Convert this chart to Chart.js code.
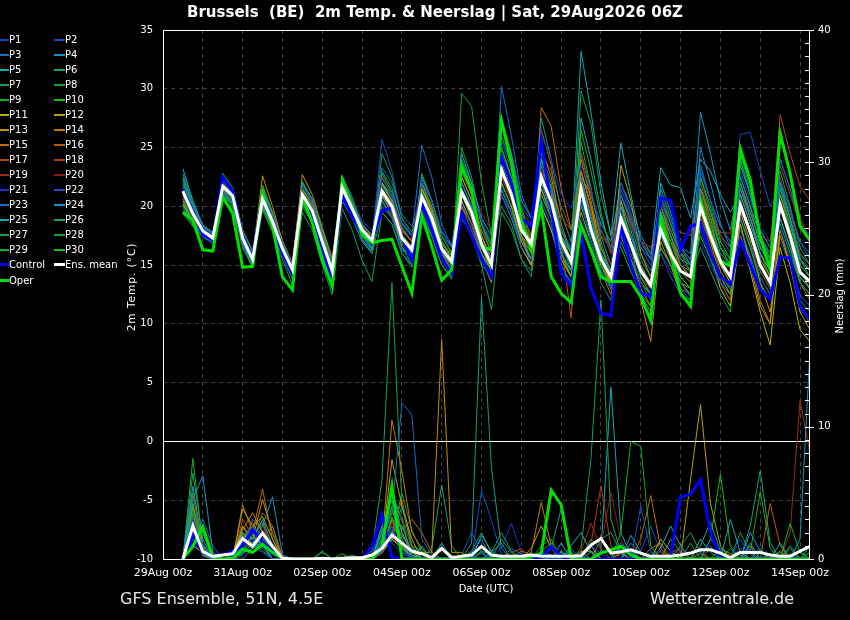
<!DOCTYPE html>
<html><head><meta charset="utf-8">
<script src="https://cdn.jsdelivr.net/npm/chart.js@4.4.1/dist/chart.umd.min.js"></script>
<style>
html,body{margin:0;padding:0;background:#000;}
#wrap{position:relative;width:850px;height:620px;background:#000;overflow:hidden;font-family:'DejaVu Sans',sans-serif;}
#c{position:absolute;left:0;top:0;}
.title{position:absolute;left:10px;width:850px;top:3px;text-align:center;color:#fff;font-weight:bold;font-size:15px;white-space:pre;}
.foot{position:absolute;top:589px;color:#e6e6e6;font-size:16px;white-space:pre;}
.axt{position:absolute;color:#fff;font-size:10px;white-space:pre;width:110px;height:12px;line-height:12px;text-align:center;transform:rotate(-90deg);transform-origin:50% 50%;}
.xt{position:absolute;color:#fff;font-size:10px;white-space:pre;width:100px;height:12px;line-height:12px;text-align:center;}
.leg{position:absolute;font-size:10px;color:#fff;white-space:pre;height:12px;line-height:12px;}
.leg i{display:inline-block;vertical-align:middle;width:11px;margin-top:-1px;}
</style></head>
<body><div id="wrap"><canvas id="c" width="850" height="620"></canvas>
<div class="title">Brussels  (BE)  2m Temp. &amp; Neerslag | Sat, 29Aug2026 06Z</div>
<div class="axt" style="left:76px;top:281px;font-size:10.5px;letter-spacing:1px">2m Temp. (°C)</div>
<div class="axt" style="left:785px;top:290px">Neerslag (mm)</div>
<div class="xt" style="left:436px;top:583px">Date (UTC)</div>
<div class="foot" style="left:120px">GFS Ensemble, 51N, 4.5E</div>
<div class="foot" style="left:650px">Wetterzentrale.de</div>
<div id="legend"></div>
</div>
<script>
// ---- time axis (hours after 29Aug 00z) ----
const HOURS = [12,18,24,30,36,42,48,54,60,66,72,78,84,90,96,102,108,114,120,126,132,138,144,150,156,162,168,174,180,186,192,198,204,210,216,222,228,234,240,246,252,258,264,270,276,282,288,294,300,306,312,318,324,330,336,342,348,354,360,366,372,378,384,390];
const X_TICK_LABELS = ['29Aug 00z','31Aug 00z','02Sep 00z','04Sep 00z','06Sep 00z','08Sep 00z','10Sep 00z','12Sep 00z','14Sep 00z'];

// ---- 2m temperature (°C) ----
const MEAN_T = [21.3,19.4,17.9,17.3, 21.7,20.9,17.3,15.5, 20.6,18.7,16.4,14.6, 21.0,19.6,17.0,14.5, 21.6,19.8,18.0,17.1, 21.3,20.0,17.3,16.3, 20.8,19.0,16.4,15.3, 21.2,19.5,16.8,15.0, 23.1,21.0,18.0,16.8, 22.5,20.4,17.0,15.3, 21.5,18.0,15.5,14.0, 19.0,16.8,14.5,13.3, 18.0,16.0,14.5,14.0, 20.0,17.5,15.3,14.0, 20.1,17.8,15.0,13.5, 20.1,17.5,14.4,13.6];
const OPER_T = [19.5,18.8,16.3,16.2, 20.8,19.4,14.8,14.9, 21.1,18.3,14.0,12.9, 20.8,18.6,15.4,13.2, 22.2,20.0,17.6,16.9, 17.1,17.2,14.9,12.6, 19.2,16.6,13.7,14.6, 23.4,21.4,16.6,16.3, 27.3,23.7,18.8,16.3, 19.9,14.0,12.6,11.8, 18.4,16.3,14.0,13.6, 13.6,13.6,12.3,10.3, 19.1,16.0,12.6,11.5, 20.5,17.7,15.4,14.9, 24.9,22.2,17.4,14.6, 26.2,22.8,18.3,17.1];
const CTRL_T = [21.4,19.6,17.6,17.1, 22.5,21.3,17.4,15.7, 20.8,18.5,16.0,14.3, 21.0,19.0,16.5,13.7, 20.9,19.2,17.6,17.2, 19.6,19.9,17.4,15.4, 20.3,18.0,15.5,14.3, 19.4,17.5,15.5,14.0, 24.2,22.0,19.0,18.3, 25.6,20.0,14.3,13.2, 17.7,13.0,10.9,10.7, 18.3,15.0,12.6,12.3, 20.7,20.5,16.3,18.3, 18.6,16.0,14.0,13.4, 17.1,15.0,12.9,12.1, 15.7,15.6,11.5,10.3];
const P1_T = [21.6,19.7,18.2,17.6, 22.2,21.4,17.8,16.0, 20.3,18.4,16.1,14.3, 21.2,19.8,17.2,14.7, 21.1,19.3,17.5,16.6, 22.3,21.0,18.3,17.3, 19.8,18.0,15.4,14.3, 23.2,21.5,18.8,17.0, 21.6,19.5,16.5,15.3, 26.1,24.0,21.0,19.8, 23.5,21.4,18.0,16.3, 19.5,16.0,13.5,12.0, 21.0,18.8,16.5,15.3, 17.0,15.0,13.5,13.0, 23.0,20.5,18.3,17.0, 18.1,15.5,12.4,11.6];
const P2_T = [20.8,18.9,17.4,16.8, 22.0,21.2,17.6,15.8, 21.1,19.2,16.9,15.1, 20.5,19.1,16.5,14.0, 22.4,20.6,18.8,17.9, 20.3,19.0,16.3,15.3, 22.3,20.5,17.9,16.8, 20.2,18.5,15.8,14.0, 25.6,23.0,20.0,18.8, 20.5,18.4,15.0,13.3, 20.5,17.0,14.5,13.0, 21.5,19.3,17.0,15.8, 16.0,14.0,12.5,12.0, 23.0,20.5,18.3,17.0, 19.1,16.8,14.0,12.5, 24.1,21.5,18.4,17.6];
const P3_T = [21.5,19.6,18.1,17.5, 21.4,20.6,17.0,15.2, 20.6,18.7,16.4,14.6, 21.8,20.4,17.8,15.3, 22.1,20.3,18.5,17.6, 23.3,22.0,19.3,18.3, 20.3,18.5,15.9,14.8, 22.0,20.0,17.0,15.5, 30.2,26.0,21.0,19.0, 23.5,21.4,18.0,16.3, 20.5,17.0,14.5,13.0, 21.0,18.8,16.5,15.5, 17.5,15.8,13.5,12.3, 23.0,20.5,18.3,17.0, 18.0,15.8,13.0,12.0, 22.1,19.8,17.0,15.5];
const P4_T = [22.8,20.3,18.3,17.6, 21.2,20.4,17.0,15.2, 21.5,19.2,16.8,14.8, 20.4,19.0,16.5,14.0, 20.8,19.2,17.5,16.3, 20.8,19.5,17.0,16.0, 22.5,20.5,17.8,16.6, 22.0,20.0,17.0,15.5, 27.0,24.5,20.5,19.0, 22.0,19.5,16.0,14.5, 22.5,19.0,16.0,14.5, 20.0,17.5,14.8,13.5, 19.5,17.5,15.5,15.0, 25.0,22.0,18.5,16.5, 21.5,19.0,16.5,15.0, 22.0,19.0,15.5,14.5];
const P5_T = [23.2,20.5,18.4,17.8, 21.5,20.8,17.2,15.3, 20.2,18.5,16.0,14.2, 20.8,19.2,16.8,14.2, 21.4,19.6,17.6,16.8, 20.5,19.0,16.5,15.8, 20.0,18.3,16.0,15.0, 24.5,22.0,19.0,17.5, 21.5,19.5,17.0,15.5, 24.0,21.5,18.0,16.0, 33.2,28.0,22.0,17.5, 25.4,21.0,17.0,15.5, 23.3,21.8,21.6,19.0, 24.0,23.0,21.0,19.5, 21.0,18.5,16.0,14.5, 19.0,16.5,14.0,13.0];
const P6_T = [19.8,18.6,17.5,17.0, 21.0,20.3,16.9,15.0, 21.2,19.0,16.6,14.9, 20.8,19.4,16.8,14.3, 22.6,20.8,18.4,17.3, 21.8,20.5,17.6,16.5, 21.2,19.3,16.5,15.3, 21.5,19.8,16.8,15.0, 23.8,21.5,18.5,16.8, 27.5,24.0,19.5,17.0, 21.0,18.5,16.0,14.0, 19.0,17.0,14.8,13.5, 16.5,15.0,13.5,12.5, 21.5,19.0,16.5,15.5, 22.0,19.5,17.0,15.5, 18.5,16.0,13.5,12.5];
const P7_T = [22.5,20.0,18.0,17.4, 21.6,20.6,17.3,15.4, 19.8,18.0,15.8,13.8, 20.5,19.0,16.0,13.0, 21.8,19.8,17.2,16.0, 19.5,18.5,16.0,14.8, 22.0,20.0,17.0,15.5, 23.8,21.5,18.5,16.8, 20.0,18.5,15.5,14.0, 21.0,19.0,16.0,14.5, 25.5,21.5,17.0,14.0, 17.5,15.5,13.5,12.0, 20.0,18.0,16.0,15.0, 20.5,18.0,15.5,14.0, 24.0,21.0,17.5,15.5, 20.5,18.0,15.0,14.0];
const P8_T = [19.6,18.4,17.6,17.2, 21.0,20.0,16.5,14.8, 21.8,19.5,16.8,14.9, 20.0,18.6,16.0,13.4, 22.2,20.0,17.6,16.4, 24.5,22.5,19.0,17.8, 19.5,17.5,15.0,13.8, 29.6,28.5,22.0,17.5, 24.0,22.0,18.5,16.5, 21.0,19.0,16.0,14.5, 22.0,19.0,16.0,14.5, 18.5,16.5,14.0,12.5, 19.0,17.0,15.0,14.5, 18.5,16.0,14.0,13.0, 21.0,18.5,16.0,14.5, 23.0,20.0,16.5,15.0];
const P9_T = [22.0,19.8,18.0,17.2, 21.2,20.2,17.5,15.6, 20.0,18.3,16.2,14.4, 21.5,20.0,17.5,15.0, 20.5,19.0,17.5,16.5, 20.0,19.0,16.5,15.5, 22.8,20.5,17.5,16.0, 19.0,17.5,15.0,14.0, 25.0,22.5,18.5,16.0, 24.5,22.0,17.5,15.5, 26.5,23.0,19.0,16.5, 16.5,14.5,12.5,11.5, 21.0,18.5,16.0,14.5, 17.5,15.5,13.5,12.5, 20.0,18.0,15.5,14.0, 21.5,18.5,15.0,14.0];
const P10_T = [20.5,18.8,17.5,16.9, 22.8,21.6,18.0,16.2, 20.9,18.9,16.6,14.8, 20.6,19.2,16.6,13.8, 21.0,19.5,17.5,16.8, 21.5,20.2,17.5,16.5, 20.5,19.0,16.8,15.8, 21.5,19.5,16.5,14.5, 22.0,20.0,17.5,16.5, 22.0,20.5,17.5,16.0, 20.0,17.5,15.0,13.0, 19.5,17.0,14.0,12.5, 18.0,16.0,14.0,13.0, 22.5,19.5,16.5,15.0, 19.0,16.5,14.0,12.5, 20.5,17.5,14.0,13.0];
const P11_T = [20.2,18.8,17.6,17.0, 22.0,21.0,17.6,15.8, 21.0,19.0,16.7,14.9, 21.2,19.8,17.3,14.8, 21.0,19.5,17.5,16.5, 22.0,20.5,17.5,16.5, 21.5,19.5,16.5,15.0, 20.5,18.5,16.0,14.5, 21.5,19.5,16.5,15.0, 20.0,18.0,15.5,14.0, 21.0,18.0,15.0,13.5, 17.5,15.5,13.5,12.5, 16.5,15.0,13.5,12.5, 18.5,16.0,13.0,11.5, 17.5,14.5,11.0,8.2, 16.5,13.5,9.5,8.5];
const P12_T = [21.0,19.2,17.8,17.1, 21.5,20.7,17.1,15.3, 20.4,18.5,16.2,14.4, 20.8,19.3,16.7,14.2, 21.3,19.6,17.8,16.8, 20.8,19.5,17.0,16.0, 21.0,19.0,16.2,15.0, 22.5,20.5,17.5,15.5, 22.0,20.0,17.0,15.5, 23.5,21.0,17.5,15.0, 19.5,17.0,14.5,13.0, 23.5,20.5,16.0,14.0, 18.5,16.0,13.5,13.0, 19.5,17.0,14.0,12.5, 18.5,15.0,11.5,10.0, 18.0,15.0,11.0,9.5];
const P13_T = [20.8,19.0,17.8,17.2, 21.9,21.1,17.5,15.7, 22.6,20.0,17.0,15.0, 22.7,21.0,18.2,15.6, 21.8,20.2,18.4,17.5, 21.0,19.8,17.5,16.5, 21.5,19.8,17.0,15.8, 20.0,18.5,15.5,13.5, 23.5,21.0,17.5,15.0, 21.5,19.0,16.0,14.0, 23.0,20.0,16.0,13.5, 20.5,17.0,12.0,8.5, 17.0,15.0,12.5,12.0, 20.5,18.0,15.0,13.5, 19.5,17.0,13.5,11.0, 17.5,15.0,11.5,10.0];
const P14_T = [21.2,19.4,18.0,17.4, 21.6,20.8,17.4,15.6, 21.0,19.0,16.8,15.0, 21.5,20.2,17.8,15.2, 21.5,20.0,18.2,17.2, 21.8,20.5,18.0,17.0, 20.0,18.5,16.0,14.5, 21.0,19.0,16.5,14.5, 24.5,22.5,19.0,17.0, 25.0,22.5,18.5,16.0, 24.0,20.5,16.5,14.5, 19.5,17.0,14.5,13.0, 20.0,17.5,15.0,14.0, 20.5,17.5,14.5,13.0, 22.0,19.0,16.0,14.0, 21.0,18.0,14.5,13.0];
const P15_T = [21.0,19.5,18.2,17.6, 22.4,21.3,17.9,16.1, 20.0,18.2,16.0,14.2, 21.0,19.7,17.4,15.0, 22.5,20.5,18.5,17.5, 21.3,20.0,17.5,16.3, 22.0,20.0,17.0,15.5, 23.0,21.0,18.0,16.0, 21.5,19.5,16.5,15.0, 28.4,26.8,21.5,18.0, 21.0,18.0,14.5,12.5, 18.0,15.5,13.0,11.5, 19.5,17.0,14.5,13.5, 21.5,18.5,15.5,14.0, 18.5,15.5,12.0,10.0, 20.0,17.0,13.5,12.0];
const P16_T = [20.6,19.0,17.7,17.2, 21.4,20.5,17.2,15.4, 21.5,19.5,17.0,15.2, 21.0,19.5,17.0,14.6, 21.2,19.8,18.0,17.0, 20.5,19.2,16.8,15.8, 20.5,18.8,16.2,15.0, 22.0,20.0,17.0,15.0, 23.0,21.0,17.5,16.0, 26.5,23.5,17.0,10.5, 22.0,19.5,15.5,13.5, 20.0,17.5,15.0,13.5, 18.0,15.5,13.0,12.5, 19.0,16.5,13.5,12.0, 20.5,18.0,15.5,14.0, 26.5,23.0,19.0,17.0];
const P17_T = [21.6,19.8,18.3,17.6, 21.3,20.6,17.2,15.3, 20.8,18.8,16.5,14.7, 20.5,19.0,16.4,14.0, 21.7,20.0,18.0,17.0, 21.8,20.4,17.6,16.6, 21.0,19.2,16.6,15.5, 21.5,19.8,17.0,15.3, 22.5,20.5,17.5,16.0, 24.5,23.0,20.0,18.0, 23.0,20.0,17.5,16.5, 20.0,18.5,17.0,16.0, 18.5,17.0,16.0,15.5, 21.5,19.5,17.5,16.5, 22.0,19.5,17.0,16.0, 27.8,24.5,21.7,20.5];
const P18_T = [20.4,19.0,17.8,17.2, 22.1,21.0,17.5,15.7, 20.5,18.7,16.3,14.5, 21.3,19.9,17.3,14.6, 22.4,20.4,18.2,17.0, 22.5,21.0,18.0,17.0, 20.8,19.0,16.5,15.2, 22.5,20.5,17.5,15.5, 24.0,22.5,19.5,18.5, 23.0,21.5,19.0,18.0, 24.5,21.0,18.0,16.5, 21.0,19.0,17.0,16.5, 18.5,18.0,17.8,17.5, 22.0,19.0,17.8,17.7, 21.5,19.0,17.5,17.0, 23.5,21.0,18.5,17.5];
const P19_T = [21.4,19.5,18.0,17.4, 21.8,20.9,17.4,15.6, 21.8,19.6,17.0,15.0, 20.9,19.4,16.9,14.4, 22.0,20.2,18.0,16.8, 21.5,20.3,17.8,17.2, 21.8,19.9,17.0,15.6, 20.0,18.0,15.5,14.0, 22.5,21.5,19.0,17.5, 22.0,20.0,17.0,15.5, 23.5,21.0,18.0,16.0, 18.5,16.5,14.0,13.0, 20.5,18.0,15.5,14.5, 21.0,18.5,15.5,14.0, 19.5,17.0,14.5,13.0, 22.5,19.5,16.0,14.5];
const P20_T = [21.2,19.3,17.9,17.3, 21.5,20.6,17.1,15.3, 20.6,18.7,16.4,14.6, 21.6,20.2,17.4,14.8, 21.2,19.7,17.8,17.0, 20.8,19.6,17.0,16.0, 21.0,19.5,17.0,15.8, 23.0,21.5,19.5,18.0, 22.0,20.0,17.0,15.5, 22.5,20.5,17.5,15.5, 22.5,19.5,16.5,15.0, 20.0,18.5,16.5,15.5, 17.5,16.0,15.0,14.5, 20.0,17.5,15.5,14.5, 21.0,18.5,16.0,15.0, 20.0,17.5,15.0,14.0];
const P21_T = [21.8,19.9,18.1,17.5, 22.3,21.2,17.6,15.8, 20.2,18.4,16.2,14.4, 20.7,19.3,16.8,14.3, 20.6,19.0,17.2,16.3, 21.0,19.8,17.2,16.0, 19.5,17.8,15.5,14.5, 20.5,18.5,16.0,14.5, 21.0,19.5,16.5,15.0, 20.5,18.5,15.5,14.0, 19.0,17.0,14.5,13.0, 18.0,16.0,13.5,12.0, 16.0,14.5,13.0,12.0, 18.0,15.5,13.0,12.0, 17.5,15.5,13.0,12.0, 17.0,15.0,12.5,11.5];
const P22_T = [21.5,19.8,18.2,17.5, 21.8,20.8,17.3,15.5, 20.7,18.9,16.5,14.6, 21.0,19.6,17.1,14.6, 21.9,20.1,18.0,17.1, 25.7,23.0,19.0,17.5, 22.0,20.5,17.5,16.5, 21.0,19.0,16.5,15.0, 24.5,22.0,18.5,17.0, 23.0,21.0,18.0,16.5, 21.5,19.0,16.5,15.0, 22.0,19.5,16.5,15.0, 21.0,18.5,16.0,15.0, 23.5,20.5,17.5,16.0, 26.1,26.3,23.0,20.0, 21.5,19.5,17.0,16.0];
const P23_T = [20.0,18.6,17.5,17.0, 21.2,20.4,17.0,15.2, 21.2,19.2,16.9,15.0, 20.3,18.9,16.3,13.8, 21.2,19.4,17.4,16.5, 22.5,21.0,18.5,17.5, 25.2,22.5,18.5,16.5, 21.0,19.0,16.0,14.0, 23.0,21.0,17.5,16.0, 21.5,19.5,16.5,15.0, 20.5,18.0,15.0,13.5, 21.0,19.0,16.0,14.5, 19.5,17.5,15.5,14.5, 19.0,17.0,15.0,14.0, 20.5,18.0,15.0,13.5, 20.0,17.0,14.0,13.0];
const P24_T = [22.2,20.0,18.3,17.7, 21.0,20.1,16.8,15.0, 21.0,19.0,16.7,14.9, 22.0,20.6,18.0,15.4, 20.8,19.2,17.2,16.2, 22.0,20.8,18.0,17.0, 21.5,19.8,17.0,15.8, 22.5,20.5,17.5,15.5, 21.0,19.0,16.5,15.0, 22.5,20.5,17.5,16.0, 22.5,21.0,18.5,17.0, 22.0,20.0,17.5,16.0, 20.5,18.5,16.5,16.0, 28.0,24.5,20.5,18.0, 22.5,20.0,17.5,16.0, 24.0,21.5,18.5,17.0];
const P25_T = [20.9,19.1,17.7,17.1, 22.0,21.0,17.4,15.6, 20.4,18.6,16.3,14.5, 21.4,20.0,17.5,15.0, 20.6,19.0,17.0,16.0, 21.2,20.0,17.0,15.8, 20.2,18.5,16.0,15.0, 24.0,22.0,18.5,16.5, 23.5,21.0,17.5,15.5, 20.0,18.0,15.0,13.5, 27.5,24.0,19.5,16.0, 20.5,18.0,15.0,13.5, 22.0,19.5,16.5,15.0, 21.0,18.5,16.0,15.0, 23.5,21.0,18.0,16.5, 21.0,18.5,15.5,14.5];
const P26_T = [21.7,19.7,18.0,17.3, 21.3,20.4,17.1,15.2, 20.1,18.3,16.0,14.2, 21.9,20.4,17.5,15.0, 21.6,19.9,18.0,17.0, 23.0,21.5,18.5,17.5, 20.5,18.5,15.5,14.0, 22.0,20.0,17.0,15.0, 26.0,23.5,19.5,17.5, 21.5,19.5,16.0,14.5, 24.5,21.5,17.5,15.0, 19.0,17.0,14.5,13.5, 21.5,19.0,16.5,15.5, 20.0,17.5,15.0,13.5, 24.5,21.5,17.5,15.5, 21.5,19.0,16.0,15.0];
const P27_T = [20.3,18.7,17.6,17.0, 20.6,19.9,16.6,14.8, 19.7,17.8,15.5,13.3, 19.5,18.0,15.0,12.5, 19.8,18.0,15.4,13.6, 19.5,18.5,16.0,15.0, 21.0,19.0,16.0,14.5, 20.0,18.0,15.0,11.2, 19.5,18.0,15.5,14.5, 22.5,20.0,16.0,14.0, 18.5,16.0,13.5,12.0, 17.0,15.0,12.5,11.0, 20.0,17.5,15.0,14.0, 16.5,14.5,12.5,11.0, 19.0,16.5,13.5,12.0, 18.0,15.5,12.0,11.0];
const P28_T = [22.4,20.1,18.2,17.5, 21.9,21.0,17.5,15.6, 21.3,19.3,16.9,15.0, 20.2,18.8,16.2,13.6, 21.3,19.6,17.8,17.0, 22.0,21.0,18.2,17.0, 21.8,20.0,17.0,15.5, 25.0,22.5,18.5,16.0, 22.0,20.0,17.0,15.5, 24.0,21.5,17.5,15.0, 29.8,27.0,21.0,17.5, 21.0,18.5,15.5,14.0, 19.0,17.0,15.0,14.0, 22.5,20.0,16.5,15.0, 24.0,21.0,17.5,15.5, 22.0,19.0,15.5,14.0];
const P29_T = [19.4,18.3,17.4,17.0, 21.4,20.7,17.0,15.2, 20.5,18.6,16.1,14.3, 20.2,18.8,16.0,13.2, 22.6,20.6,18.2,17.0, 21.0,19.5,16.5,15.0, 22.5,20.5,17.5,16.0, 23.5,21.0,17.5,15.0, 27.5,24.5,20.0,17.0, 23.0,21.0,17.0,14.5, 22.5,19.0,15.5,13.0, 20.0,17.0,14.0,12.5, 17.5,15.5,13.0,12.0, 21.5,19.0,15.5,14.0, 22.5,20.0,16.5,15.0, 19.0,16.5,13.5,12.5];
const P30_T = [20.1,18.6,17.5,17.0, 22.5,21.3,17.8,16.0, 21.6,19.5,17.1,15.2, 22.1,20.6,18.0,15.4, 21.0,19.5,17.7,16.9, 22.8,21.2,18.6,17.5, 19.0,17.5,15.0,14.0, 21.5,19.5,16.5,15.0, 25.0,22.5,18.5,16.5, 24.0,21.5,17.0,15.0, 23.0,20.0,16.5,14.5, 18.0,15.5,13.0,11.5, 19.0,16.5,14.0,13.0, 23.5,20.5,17.0,15.5, 20.0,17.5,14.5,13.0, 22.0,19.0,15.5,14.5];

// ---- precipitation (mm per 6 h) ----
const MEAN_R = [0,2.5,0.55,0.2,0.3,0.4,1.55,0.95, 1.95,0.95,0.05,0,0,0,0.05,0, 0.05,0.1,0.1,0.3,0.8,1.8,1.2,0.6, 0.4,0.1,0.8,0.1,0.2,0.3,0.95,0.3, 0.2,0.2,0.2,0.3,0.2,0.2,0.2,0.2, 0.25,1.05,1.55,0.45,0.55,0.7,0.45,0.2, 0.2,0.2,0.3,0.45,0.7,0.7,0.45,0.1, 0.5,0.5,0.5,0.3,0.2,0.2,0.6,0.95];
const OPER_R = [0,0.95,2.45,0.15,0,0.05,0.75,0.5, 1.1,0.5,0.05,0,0,0,0,0, 0,0,0,0,0.95,5.5,0,0, 0,0,0,0,0,0,0,0, 0,0,0,0.15,0.45,5.2,4.1,0, 0,0,0.45,0.7,0.95,0.3,0,0, 0,0,0,0,0,0,0,0, 0,0,0,0,0,0,0,0];
const CTRL_R = [0,1.7,0.5,0.3,0.3,0.6,1.0,2.2, 1.3,0.6,0,0,0,0,0,0, 0,0,0,0.95,3.4,0.1,0,0, 0,0,0,0,0,0,0,0, 0,0,0,0,0.1,0.95,0.2,0, 0,0,0,0,0,0,0,0, 0,0.2,4.7,4.9,6.0,2.0,0.2,0, 0,0,0,0,0,0,0,0];
const P1_R = [0,3.0,0.8,0,0,0.2,0.8,1.5, 1.0,0.3,0,0,0,0,0,0, 0,0,0,0,1.2,2.5,0.5,0.2, 0,0,0,0,0,0,0.4,0, 0,0,0,0,0.5,0,0,0, 0,1.0,0.4,0,0,0,0,0, 0,0,0.8,0,0,0,0,0, 1.5,0.3,0,0,0,0,0,0];
const P2_R = [0,2.0,1.2,0,0,0,0.3,1.0, 0.8,0,0,0,0,0,0,0, 0,0,0,0,0.5,1.8,0.8,0, 0,0,0,0,0,0,5.2,2.9, 0.3,0,0,0,0,0,0,0, 0.5,0,0,0,0,0,4.0,0.6, 0,0,0,0,0,0,0,0, 0,0.8,0.2,0,0,0,0,0];
const P3_R = [0,1.5,0.5,0,0,0.3,1.2,2.5, 1.8,0.6,0,0,0,0,0,0, 0,0,0,0,1.5,3.5,11.8,10.9, 1.5,0.3,0,0,0,0,0,0, 0,0.8,0.4,0,0,0,0,0, 0,0,0,0,1.2,0.5,0,0, 0,0,0,0,0,1.5,0.6,0, 0,0,0,0,0,0,0,0];
const P4_R = [0,4.5,6.3,0.5,0,0,1.5,1.2, 2.5,4.7,0.3,0,0,0,0,0, 0,0,0,0,0.8,2.0,1.2,0, 0,0,0,0,0,0.5,1.5,0, 0,0,0,0,0,0,0.6,0, 0,0,0,0,0,1.8,0.5,0, 0,0,0,0,0,0,0,0, 0,1.2,0,0,0,0,1.5,15.8];
const P5_R = [0,5.5,1.0,0,0,0,2.0,1.5, 3.0,1.0,0,0,0,0,0,0, 0,0,0,0,2.5,4.5,2.0,0.5, 0,0,1.2,0,0,0,1.8,0.6, 0,0,0,0,0,0,0,1.0, 2.0,0.5,0,0,0,0,0,0, 0.8,2.5,1.0,0,0,0,0,3.0, 0.5,0,0,0,1.2,0,0,0];
const P6_R = [0,2.5,0.4,0,0,0,0,0.8, 1.2,0,0,0,0,0,0,0, 0,0,0,0,0.6,1.5,4.0,1.0, 0,0,0,0,0,1.2,19.8,6.9, 0.8,0,0,0,0,0,0,0, 0,0,1.5,2.0,0.5,0,0,0, 0,0,0,0,1.0,2.8,0.6,0, 0,0,0,0,0,1.0,0,0];
const P7_R = [0,6.5,1.5,0,0,0,1.5,2.5, 0.8,0,0,0,0,0,0,0, 0,0,0,0,2.0,5.0,3.0,0, 1.0,0,0,0,0,0,0.5,0, 0,0,0,0,0,0,0,0, 0.8,7.6,19.6,3.0,0.5,0,0,0, 0,0,0,1.2,0,0,0,0, 0,0,0.8,0,0,0,0,0];
const P8_R = [0,3.5,0.3,0,0,0,1.0,0.5, 1.5,0.5,0,0,0,0,0.6,0, 0,0,0,0,1.0,2.5,1.5,0, 0,0,0.8,0.3,0,0,0,0, 1.5,0.5,0,0,0,0,0,0, 0,0,0,0,1.0,0.6,0,0, 0,0,0,0,0,0,0,0, 2.0,0.5,0,0,0,0,0,0];
const P9_R = [0,7.6,1.0,0,0,0,0.6,1.8, 1.0,0,0,0,0,0,0,0, 0,0,0,0,1.5,4.0,0.8,0, 0,0,0,0,0,0,0,0, 0,0,0,0,1.0,1.5,0,0, 0,0,0,0,2.0,8.9,8.5,1.0, 0,0,0,0,0,0,0,0.8, 0,0,0,0,0,2.7,0.5,0];
const P10_R = [0,4.0,0.6,0,0,0,0.4,1.2, 2.0,0.8,0,0,0,0,0,0, 0.4,0,0,0,0.8,3.0,2.5,0.5, 0,0,0,0,0,0,0,0, 0,0,0,0,0,0,0.5,0, 0,0,0,0,0,0,0,0, 0,0,0,0,0,1.5,6.4,1.0, 0,0,0,0,0,0,0,0.5];
const P11_R = [0,3.0,0.5,0,0,0.4,2.0,1.0, 1.5,0.5,0,0,0,0,0,0, 0,0,0,0,0.5,1.5,0.8,0.3, 0,0,0,0,0,0,0,0, 0,0,0,0,0,0,0,0, 0.5,1.0,0,0,0,0,0,0, 1.5,0.6,0,0,0,0,0,0, 0.6,0,0,0,0,0,0,0];
const P12_R = [0,1.0,0.5,0,0,0,3.8,2.5, 3.2,1.5,0,0,0,0,0,0, 0,0,0,0,1.0,7.5,4.0,1.5, 0,0,0,0,0,0,0,0, 0,0,0,0.8,2.5,0.8,0,0, 0,0,0,0,0,0,0,0, 0,0,0,6.0,11.7,4.2,1.0,0, 0,0,0,0,0,0,0,0];
const P13_R = [0,2.5,0.8,0,0,0,2.5,1.5, 4.5,2.0,0,0,0,0,0,0, 0,0,0,0,0.5,1.5,1.0,0, 0.5,0.5,16.6,0.5,0.5,0,0,0, 0,0,0,0,0,0,0,0, 0.5,0.6,0,0,0,0,0,0, 0,0,0,0,0,0,0,0, 0,1.0,0,0,0,0,0,0];
const P14_R = [0,1.8,0.3,0,0,0,2.2,3.5, 2.0,0.6,0,0,0,0,0,0, 0,0,0,0,1.0,10.5,6.7,2.0, 0.8,0,0,0,0,0,0,0, 0,0,0,0.5,4.3,1.0,0,0, 0,0,0,0,0,0,0,0.8, 1.2,0,0,0,0,0,0,0, 0,0,0,0.4,0,0,0,0];
const P15_R = [0,3.8,1.0,0,0,0,4.1,2.0, 5.3,1.5,0,0,0,0,0,0, 0,0,0,0,1.5,3.5,2.2,3.0, 2.0,0.5,0,0,0,0,0,0, 0,0,0,0,0,0,0,0, 0,0,0,0,0.4,0,1.5,4.8, 0.8,0,0,0,0,0,0,0, 0,0,0,0,0.6,0,0,0];
const P16_R = [0,2.2,0.5,0,0,0,1.8,1.2, 3.5,2.5,0.2,0,0,0,0,0, 0,0,0,0,0.5,2.0,4.5,1.0, 0,0,0,0,0,0,0,0, 0,0,0.6,0.3,0,0,0,0, 0.6,0,0,0,0,0,0,0, 0,0.5,0.8,0,0,0,0,0, 0,0,0,4.2,1.0,0,0,0];
const P17_R = [0,4.8,0.8,0,0,0,3.0,1.8, 2.6,0.8,0,0,0,0,0,0, 0,0,0,0,1.2,3.0,1.8,0.6, 0,0,0,0,0,0,0,0, 0,0,0,0,0,0,0.5,0.2, 0,0,0,0,0.5,0,0,0, 0,0,0,0,0,0,0,0.4, 0.3,0,0,0,0,0,0,0];
const P18_R = [0,3.2,1.5,0,0,0,1.5,2.8, 1.0,0,0,0,0,0,0,0, 0,0,0,0,0.8,2.0,3.2,0.8, 0,0,0,0,0,0,0,0, 0,0.5,0.8,0,0,0,0,0, 0,1.2,5.5,1.0,0,0,0,0, 0.6,0,0,0,0.4,0,0,0, 0,0,0,0,0,0,0,0];
const P19_R = [0,4.0,0.5,0,0,0,0.8,1.5, 1.8,0.4,0,0,0,0,0,0, 0,0,0,0,0.6,2.8,1.0,0, 0.4,0,0,0,0,0,0,0, 0,0,0,0,0,0,0,0, 0.6,2.7,0.8,0,0,0,0,0, 0,0,0.6,0,0,0,0,0, 0,0,0,0,0,2.0,12.0,8.0];
const P20_R = [0,2.8,0.6,0,0,0,1.2,0.8, 2.2,1.0,0,0,0,0,0,0, 0,0,0,0,0.4,1.5,2.5,0.5, 0,0,0,0,0,0,0,0, 0,0,0,0,0,0,0,0, 0,0,1.0,5.0,1.5,0,0,0, 0,0,0,0.5,0.8,0,0,0, 0,0,0,0,0,0,0,0];
const P21_R = [0,1.2,0.4,0,0,0,0.6,2.0, 1.5,0,0,0,0,0,0,0, 0,0,0,0,1.8,2.2,0.6,0, 0,0,0,0,0,0,1.0,0, 0.8,2.7,0.5,0,0,0,0,0, 0,0,0,0,0,0,0,0.5, 0,0,0,0,0,0,0,0, 0,0,1.0,0.3,0,0,0,0];
const P22_R = [0,2.0,0.2,0,0,0,1.8,1.0, 0.5,0,0,0,0,0,0,0, 0,0,0,0.4,2.5,1.2,0.5,0, 0,0,0,0,0.3,2.0,0.5,0, 0,0,0,0,0,0,0,0.8, 0,0,0,0,0,0,0.6,2.5, 0.5,0,0,0,0,0,0,0, 0.8,0.5,0,0,0,0,0,0];
const P23_R = [0,1.0,3.0,1.0,0,0,0.5,3.0, 2.2,1.2,0,0,0,0,0,0, 0,0,0,0,1.0,3.8,1.5,0, 0,0,0,0,0,0,0,0, 0,0,0,0.5,0,0,0,0, 0,0,0,0,1.0,0.5,0,0, 0,0,0,0,0.5,1.0,0,0, 0,0,0,0,0,0.4,0,0];
const P24_R = [0,2.8,0.5,0,0,0,1.0,2.2, 1.5,2.5,0,0,0,0,0,0, 0,0,0,0,1.2,5.5,2.0,0.6, 0,0,0,0,0,0,0,0.5, 1.2,0,0,0,0.5,0.3,0,0, 0,0,0,0,0,0,0,0, 0,1.5,0.5,0,0,0,0,0, 0,2.0,0.6,0,0,0,0,0];
const P25_R = [0,4.2,0.8,0,0,0,1.5,2.0, 1.8,0.8,0,0,0,0,0,0, 0,0,0,0,2.2,3.0,1.2,0.4, 0.8,0,0,0,0,0,0,0, 0,0,0,0,0.4,0,1.2,0, 0,0,0.6,13.0,2.0,0.3,0,0, 0,0,0,0,1.5,0.5,0,0, 0,0,0,0,0,0,0,1.0];
const P26_R = [0,3.3,0.6,0,0,0,2.5,1.0, 1.2,0,0,0,0,0,0,0, 0,0,0,0,1.0,2.2,1.0,0, 0,0.8,5.6,1.0,0,0,0,0, 0,0,0,0,0,0.8,3.8,0.5, 0,0,0,0,0,1.2,0.4,0, 0,0,0,0,0,0,0,0, 0,2.5,6.7,1.2,0,0,0,0];
const P27_R = [0,5.0,0.8,0,0,0,1.2,1.5, 2.8,0.5,0,0,0,0,0.5,0, 0,0.3,0,0.6,6.0,20.9,4.0,1.0, 0.6,0,0,0,0,0,0,0.5, 2.0,0.6,0,0,0,0,0,0, 0,1.5,0.8,0,0,0,0,0, 0,0,0,0,0,0.8,0.3,0, 0,0,0,0,0.5,0,0,0];
const P28_R = [0,2.2,1.0,0,0,0,0.7,1.2, 0.6,0,0,0,0,0,0,0, 0,0,0,0,0.8,1.8,5.0,2.2, 0.5,0,0,0,0,0.6,2.0,0.4, 0,0,0,0,0,0,0,0, 0,0,0,0,0,0.8,0,0, 0,0,1.0,2.0,0.5,0,0,0, 0,0,0,0,0,0,0.6,0];
const P29_R = [0,3.0,2.0,0,0,0,0.5,0.8, 1.5,0.8,0,0,0,0,0,0, 0,0,0,0,1.5,2.5,1.8,0.5, 0,0,0,0,0,0,0,0, 0,0,0,0,0.6,1.2,0,0, 0,0.5,0,0,0,0,0,0, 0,0.5,0,0,0,0,0,0, 0,0.5,5.1,0.8,0,0,0,0];
const P30_R = [0,1.5,0.5,0,0,0,0.9,1.6, 1.2,0,0,0,0,0,0,0, 0,0,0,0,0.5,3.2,0.8,0, 0,0,0,0,0,0,0.6,0.3, 0,0,0,0,0,0,0,0, 0,0,0,0,0.5,0,0,0, 0,0,0,0,0,0,0.8,0.4, 0,0,0,0,0,0.8,0,0];

const MEMBER_NAMES = ['P1','P2','P3','P4','P5','P6','P7','P8','P9','P10','P11','P12','P13','P14','P15','P16','P17','P18','P19','P20','P21','P22','P23','P24','P25','P26','P27','P28','P29','P30'];
const MEMBER_T = [P1_T,P2_T,P3_T,P4_T,P5_T,P6_T,P7_T,P8_T,P9_T,P10_T,P11_T,P12_T,P13_T,P14_T,P15_T,P16_T,P17_T,P18_T,P19_T,P20_T,P21_T,P22_T,P23_T,P24_T,P25_T,P26_T,P27_T,P28_T,P29_T,P30_T];
const MEMBER_R = [P1_R,P2_R,P3_R,P4_R,P5_R,P6_R,P7_R,P8_R,P9_R,P10_R,P11_R,P12_R,P13_R,P14_R,P15_R,P16_R,P17_R,P18_R,P19_R,P20_R,P21_R,P22_R,P23_R,P24_R,P25_R,P26_R,P27_R,P28_R,P29_R,P30_R];

// ---- styles ----
const PALETTE = ['#1438c4','#1450c4','#1470c4','#1494c8','#14a8b4','#14a080','#14a058','#14a040','#14b020','#14c014',
                 '#b8b400','#b8a000','#c09000','#c07c00','#c06a00','#b85a04','#b04a10','#b03c10','#a02c12','#901818'];
const memberColor = i => PALETTE[i % 20];
const COL_MEAN = '#ffffff', COL_CTRL = '#0000ff', COL_OPER = '#00e000';

const base = {pointRadius:0, pointHoverRadius:0, tension:0, fill:false};
const datasets = [
  Object.assign({label:'Ens. mean', data:MEAN_T, yAxisID:'y', borderColor:COL_MEAN, borderWidth:3, order:0}, base),
  Object.assign({label:'Oper', data:OPER_T, yAxisID:'y', borderColor:COL_OPER, borderWidth:3, order:1}, base),
  Object.assign({label:'Control', data:CTRL_T, yAxisID:'y', borderColor:COL_CTRL, borderWidth:3, order:2}, base),
  Object.assign({label:'Ens. mean RR', data:MEAN_R, yAxisID:'y1', borderColor:COL_MEAN, borderWidth:3, order:3}, base),
  Object.assign({label:'Oper RR', data:OPER_R, yAxisID:'y1', borderColor:COL_OPER, borderWidth:3, order:4}, base),
  Object.assign({label:'Control RR', data:CTRL_R, yAxisID:'y1', borderColor:COL_CTRL, borderWidth:3, order:5}, base)
];
MEMBER_NAMES.forEach((n, i) => {
  datasets.push(Object.assign({label:n, data:MEMBER_T[i], yAxisID:'y', borderColor:memberColor(i), borderWidth:1, order:10}, base));
  datasets.push(Object.assign({label:n+' RR', data:MEMBER_R[i], yAxisID:'y1', borderColor:memberColor(i), borderWidth:1, order:11}, base));
});

// ---- legend (HTML) ----
const legendItems = MEMBER_NAMES.map((n,i)=>({name:n, color:memberColor(i), w:2}))
  .concat([{name:'Control', color:COL_CTRL, w:3},{name:'Ens. mean', color:COL_MEAN, w:3},{name:'Oper', color:COL_OPER, w:3}]);
const legEl = document.getElementById('legend');
legendItems.forEach((it, k) => {
  const row = Math.floor(k/2), col = k % 2;
  const d = document.createElement('div');
  d.className = 'leg';
  d.style.left = (col ? 54 : -2) + 'px';
  d.style.top = (34 + row*15 + (row===16?1:0)) + 'px';
  d.innerHTML = '<i style="height:' + it.w + 'px;background:' + it.color + '"></i>' + it.name;
  legEl.appendChild(d);
});

// ---- frame + right-axis minor ticks ----
const framePlugin = {
  id:'frame',
  afterDatasetsDraw(chart){
    const {ctx, chartArea:a} = chart;
    const y1 = chart.scales.y1;
    ctx.save();
    ctx.strokeStyle = '#ffffff';
    ctx.lineWidth = 1;
    ctx.strokeRect(Math.round(a.left)+0.5, Math.round(a.top)+0.5, Math.round(a.right-a.left)-1, Math.round(a.bottom-a.top));
    ctx.beginPath();
    y1.ticks.forEach(t => {
      const py = Math.round(y1.getPixelForValue(t.value)) + 0.5;
      const major = t.value % 10 === 0;
      ctx.moveTo(a.right - 5, py);
      ctx.lineTo(a.right + (major ? 4 : 0), py);
    });
    ctx.stroke();
    ctx.restore();
  }
};

Chart.defaults.font.family = "'DejaVu Sans', sans-serif";
Chart.defaults.font.size = 10;
Chart.defaults.color = '#ffffff';

new Chart(document.getElementById('c'), {
  type:'line',
  data:{labels:HOURS, datasets},
  options:{
    responsive:false, animation:false, events:[],
    layout:{padding:{top:30, left:0, right:0, bottom:16}},
    plugins:{legend:{display:false}, title:{display:false}, tooltip:{enabled:false}},
    scales:{
      x:{
        type:'linear', min:0, max:390,
        afterFit:s=>{s.height = 45;},
        ticks:{stepSize:24, autoSkip:false, maxRotation:0, includeBounds:false, padding:8, font:{size:11},
          callback:v => (v % 48 === 0 && v <= 384) ? X_TICK_LABELS[v/48] : ''},
        grid:{color:'#444444', lineWidth:1, drawTicks:false},
        border:{display:false, dash:[4,4]}
      },
      y:{
        position:'left', min:-10, max:35,
        afterFit:s=>{s.width = 163;},
        ticks:{stepSize:5, autoSkip:false, padding:10},
        grid:{color:c => (c.tick && c.tick.value === 0) ? '#ffffff' : '#444444', lineWidth:1, drawTicks:false},
        border:{display:false, dash:c => (c.tick && c.tick.value === 0) ? [] : [4,4]}
      },
      y1:{
        position:'right', min:0, max:40,
        afterFit:s=>{s.width = 40;},
        ticks:{stepSize:1, autoSkip:false, padding:8, callback:v => (v % 10 === 0) ? String(v) : ''},
        grid:{display:false, drawTicks:false},
        border:{display:false}
      }
    }
  },
  plugins:[framePlugin]
});
</script>
</body></html>
